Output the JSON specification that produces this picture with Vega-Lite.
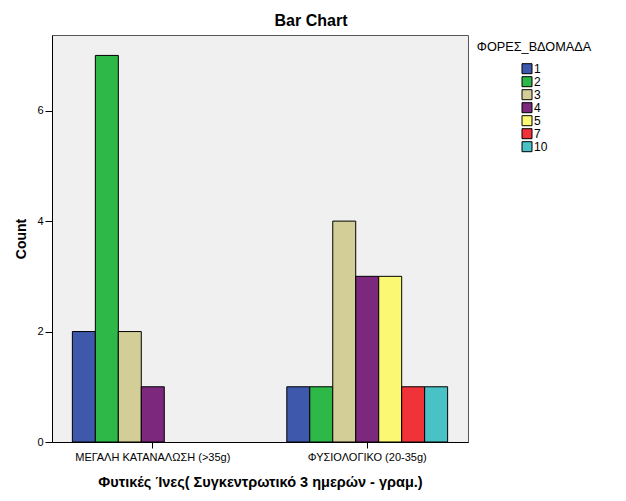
{
  "$schema": "https://vega.github.io/schema/vega-lite/v6.json",
  "autosize": {"type": "none"},
  "padding": {"left": 52, "top": 35, "right": 158, "bottom": 59},
  "width": 416,
  "height": 407,
  "background": "white",
  "title": {"text": "Bar Chart", "font": "Liberation Sans", "fontSize": 16, "fontWeight": "bold", "color": "black", "anchor": "middle", "dx": 51, "offset": 6},
  "data": {"values": [
    {"group": "ΜΕΓΑΛΗ ΚΑΤΑΝΑΛΩΣΗ (>35g)", "freq": "1", "count": 2},
    {"group": "ΜΕΓΑΛΗ ΚΑΤΑΝΑΛΩΣΗ (>35g)", "freq": "2", "count": 7},
    {"group": "ΜΕΓΑΛΗ ΚΑΤΑΝΑΛΩΣΗ (>35g)", "freq": "3", "count": 2},
    {"group": "ΜΕΓΑΛΗ ΚΑΤΑΝΑΛΩΣΗ (>35g)", "freq": "4", "count": 1},
    {"group": "ΦΥΣΙΟΛΟΓΙΚΟ (20-35g)", "freq": "1", "count": 1},
    {"group": "ΦΥΣΙΟΛΟΓΙΚΟ (20-35g)", "freq": "2", "count": 1},
    {"group": "ΦΥΣΙΟΛΟΓΙΚΟ (20-35g)", "freq": "3", "count": 4},
    {"group": "ΦΥΣΙΟΛΟΓΙΚΟ (20-35g)", "freq": "4", "count": 3},
    {"group": "ΦΥΣΙΟΛΟΓΙΚΟ (20-35g)", "freq": "5", "count": 3},
    {"group": "ΦΥΣΙΟΛΟΓΙΚΟ (20-35g)", "freq": "7", "count": 1},
    {"group": "ΦΥΣΙΟΛΟΓΙΚΟ (20-35g)", "freq": "10", "count": 1}
  ]},
  "mark": {"type": "bar", "stroke": "black", "strokeWidth": 1, "opacity": 1},
  "encoding": {
    "x": {
      "field": "group", "type": "nominal", "sort": null,
      "scale": {"paddingInner": 0.25, "paddingOuter": 0.095},
      "axis": {"title": "Φυτικές Ίνες( Συγκεντρωτικό 3 ημερών - γραμ.)", "labelAngle": 0, "labelFont": "Liberation Sans", "labelFontSize": 11, "labelColor": "black", "tickColor": "black", "tickSize": 6, "domainColor": "black", "labelPadding": 3, "titleFont": "Liberation Sans", "titleFontSize": 14.5, "titleFontWeight": "bold", "titleColor": "black", "titlePadding": 13}
    },
    "xOffset": {
      "field": "freq", "type": "nominal",
      "scale": {"domain": ["1", "2", "3", "4", "5", "7", "10"], "paddingInner": 0, "paddingOuter": 0}
    },
    "y": {
      "field": "count", "type": "quantitative",
      "scale": {"domain": [0, 7.37], "nice": false},
      "axis": {"title": "Count", "values": [0, 2, 4, 6], "grid": false, "labelFont": "Liberation Sans", "labelFontSize": 11, "labelColor": "black", "tickColor": "black", "tickSize": 7, "domainColor": "black", "labelPadding": 2, "titleFont": "Liberation Sans", "titleFontSize": 14, "titleFontWeight": "bold", "titleColor": "black", "titlePadding": 8}
    },
    "color": {
      "field": "freq", "type": "nominal",
      "scale": {"domain": ["1", "2", "3", "4", "5", "7", "10"], "range": ["#3E58AC", "#2EB848", "#D3CE97", "#7C287D", "#FBF873", "#EF3338", "#48C2C5"]},
      "legend": {"title": "ΦΟΡΕΣ_ΒΔΟΜΑΔΑ", "orient": "none", "legendX": 425, "legendY": 6, "titleAnchor": "middle", "titleAlign": "center", "titleFont": "Liberation Sans", "titleFontSize": 12.7, "titleFontWeight": "normal", "titleColor": "black", "titlePadding": 9, "labelFont": "Liberation Sans", "labelFontSize": 12, "labelColor": "black", "labelOffset": 1, "symbolType": "square", "symbolSize": 100, "symbolStrokeColor": "black", "symbolStrokeWidth": 1, "symbolOpacity": 1, "rowPadding": -3}
    }
  },
  "config": {
    "view": {"fill": "#F0F0F0", "stroke": "#555555", "strokeWidth": 1}
  }
}
